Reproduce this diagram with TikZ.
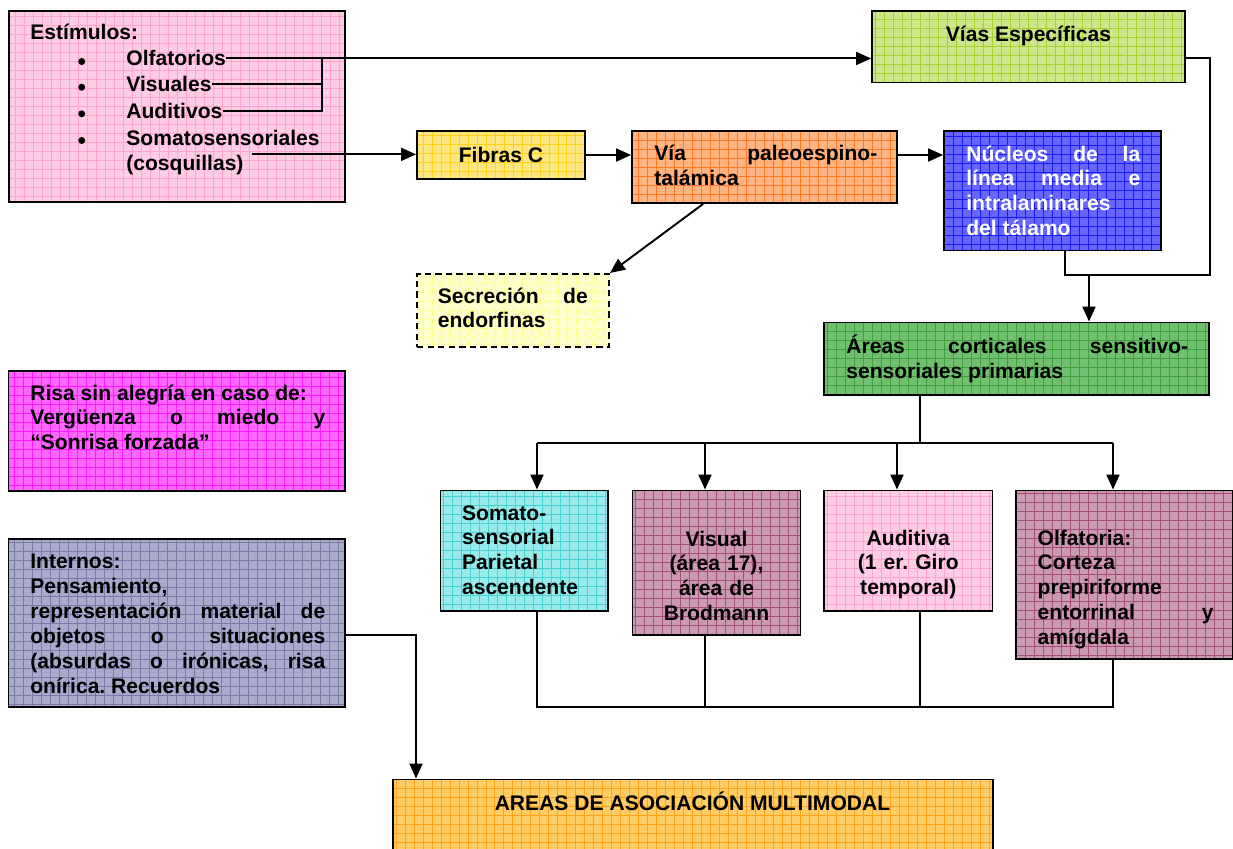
\documentclass[tikz,border=0pt]{standalone}
\usepackage{fontspec}
\setmainfont{Liberation Sans}
\usetikzlibrary{arrows.meta,calc}
\definecolor{FondoRosa}{HTML}{FFCCE5}
\definecolor{RejaRosa}{HTML}{FFA3D1}
\definecolor{FondoLima}{HTML}{CCE68C}
\definecolor{RejaLima}{HTML}{A6D22E}
\definecolor{FondoAmarillo}{HTML}{FFE680}
\definecolor{RejaAmarillo}{HTML}{FFD21A}
\definecolor{FondoNaranja}{HTML}{FFB380}
\definecolor{RejaNaranja}{HTML}{FF7A26}
\definecolor{FondoAzul}{HTML}{6666FF}
\definecolor{RejaAzul}{HTML}{1A1AFF}
\definecolor{FondoCrema}{HTML}{FFFFCC}
\definecolor{RejaCrema}{HTML}{FFFF7A}
\definecolor{FondoVerde}{HTML}{70C070}
\definecolor{RejaVerde}{HTML}{40A040}
\definecolor{FondoTurquesa}{HTML}{99EBEB}
\definecolor{RejaTurquesa}{HTML}{47D1D1}
\definecolor{FondoMalva}{HTML}{CC99B3}
\definecolor{RejaMalva}{HTML}{A64D7A}
\definecolor{FondoMagenta}{HTML}{FF66FF}
\definecolor{RejaMagenta}{HTML}{FF1AFF}
\definecolor{FondoLila}{HTML}{AAAACC}
\definecolor{RejaLila}{HTML}{7A7AA6}
\definecolor{FondoOro}{HTML}{FFCC66}
\definecolor{RejaOro}{HTML}{FFA31A}
\tolerance=10000
\hyphenpenalty=10000
\hbadness=10000
\frenchspacing
\tikzset{
  caja/.style 2 args={draw=black, line width=1.1pt, fill=#1, inner sep=0pt,
    path picture={\draw[#2, line width=0.35pt] (path picture bounding box.south west)
      grid[step=0.18cm] (path picture bounding box.north east);}},
  texto/.style={inner sep=0pt, anchor=base west},
  vineta/.style={circle, fill=black, inner sep=0pt, minimum size=0.14cm},
  linea/.style={line width=1.1pt},
  flecha/.style={line width=1.1pt, -{Triangle[length=0.3cm, width=0.26cm]}},
}
\begin{document}
\begin{tikzpicture}[x=0.02cm, y=-0.02cm, every node/.style={font=\fontsize{12}{14.2}\selectfont\bfseries}]
  \useasboundingbox (0,0) rectangle (1233,848);
  % cajas
  \node[caja={FondoRosa}{RejaRosa}, minimum width=6.72cm, minimum height=3.82cm] (estim) at (177,106.5) {};
  \node[caja={FondoLima}{RejaLima}, minimum width=6.26cm, minimum height=1.43cm] (vias) at (1028.5,46.75) {};
  \node[caja={FondoAmarillo}{RejaAmarillo}, minimum width=3.36cm, minimum height=0.96cm] (fibras) at (501,155) {Fibras C};
  \node[caja={FondoNaranja}{RejaNaranja}, minimum width=5.30cm, minimum height=1.44cm] (via) at (764.5,167) {};
  \node[caja={FondoAzul}{RejaAzul}, minimum width=4.34cm, minimum height=2.39cm] (nuc) at (1052.5,190.75) {};
  \node[caja={FondoCrema}{RejaCrema}, dashed, dash pattern=on 3.6pt off 2.4pt, minimum width=3.84cm, minimum height=1.46cm] (secr) at (513,310.5) {};
  \node[caja={FondoVerde}{RejaVerde}, minimum width=7.70cm, minimum height=1.45cm] (areas) at (1016.5,358.75) {};
  \node[caja={FondoTurquesa}{RejaTurquesa}, minimum width=3.35cm, minimum height=2.41cm] (somato) at (524.25,550.75) {};
  \node[caja={FondoMalva}{RejaMalva}, minimum width=3.36cm, minimum height=2.89cm] (visual) at (716.5,562.75) {};
  \node[caja={FondoRosa}{RejaRosa}, minimum width=3.37cm, minimum height=2.41cm] (audit) at (908.25,550.75) {};
  \node[caja={FondoMalva}{RejaMalva}, minimum width=4.33cm, minimum height=3.37cm] (olfat) at (1124.25,574.75) {};
  \node[caja={FondoMagenta}{RejaMagenta}, minimum width=6.73cm, minimum height=2.40cm] (risa) at (176.75,431) {};
  \node[caja={FondoLila}{RejaLila}, minimum width=6.73cm, minimum height=3.36cm] (intern) at (176.75,623) {};
  \node[caja={FondoOro}{RejaOro}, minimum width=12.01cm, minimum height=1.81cm] (asoc) at (692.75,824.75) {};

  % textos
  \node[texto] (estim-t) at (30,39.3) {Estímulos:};
  \node[vineta] (p1) at (81.7,61.5) {};
  \node[vineta] (p2) at (81.7,87.2) {};
  \node[vineta] (p3) at (81.7,113.8) {};
  \node[vineta] (p4) at (81.7,140.5) {};
  \node[texto] (olf) at (126,66) {Olfatorios};
  \node[texto] (vis) at (126,91.7) {Visuales};
  \node[texto] (aud) at (126,118.3) {Auditivos};
  \node[texto] (som) at (126,145) {Somatosensoriales};
  \node[texto] (cosq) at (126,170) {(cosquillas)};
  \node[texto, anchor=base] (vias-t) at (1028.5,41.7) {Vías Específicas};
  \node[texto, text width=4.46cm, align=justify] (via-t) at (654,160.7)
    {Vía paleoespino-\linebreak talámica};
  \node[texto, text width=3.48cm, align=justify, text=white] (nuc-t) at (966,161)
    {Núcleos de la\linebreak línea media e\linebreak intralaminares\linebreak del tálamo};
  \node[texto, text width=3.0cm, align=justify] (secr-t) at (437.5,303)
    {Secreción de\linebreak endorfinas};
  \node[texto, text width=6.84cm, align=justify] (areas-t) at (846,353.3)
    {Áreas corticales sensitivo-\linebreak sensoriales primarias};
  \node[texto, text width=3.0cm, align=left] (somato-t) at (461.7,520)
    {Somato-\\sensorial\\Parietal\\ascendente};
  \node[texto, anchor=base, text width=3.0cm, align=center] (visual-t) at (716.5,546)
    {Visual\\(área 17),\\área de\\Brodmann};
  \node[texto, anchor=base, text width=3.0cm, align=center] (audit-t) at (908.25,545)
    {Auditiva\\(1 er. Giro\\temporal)};
  \node[texto, text width=3.52cm, align=justify] (olfat-t) at (1037.3,545)
    {Olfatoria:\\Corteza\\prepiriforme\\entorrinal y\linebreak amígdala};
  \node[texto, text width=5.9cm, align=justify] (risa-t) at (30,400)
    {Risa sin alegría en caso de:\\Vergüenza o miedo y\linebreak “Sonrisa forzada”};
  \node[texto, text width=5.9cm, align=justify] (intern-t) at (30,568.3)
    {Internos:\\Pensamiento,\\representación material de\linebreak objetos o situaciones\linebreak
     (absurdas o irónicas, risa\linebreak onírica. Recuerdos};
  \node[texto, anchor=base] (asoc-t) at (692.5,810) {AREAS DE ASOCIACIÓN MULTIMODAL};

  % conexiones
  \coordinate (nudo) at ($(olf.east)+(96,0)$);
  \draw[flecha] (olf.east) -- (olf.east -| vias.west);
  \draw[linea] (vis.east) -| (nudo);
  \draw[linea] (aud.east) -| (nudo);
  \draw[flecha] ([xshift=0.16cm]cosq.north east) -- (cosq.north east -| fibras.west);
  \draw[flecha] (fibras.east) -- (fibras.east -| via.west);
  \draw[flecha] (via.east |- fibras.east) -- (nuc.west |- fibras.east);
  \draw[flecha] ($(via.south west)!0.27!(via.south east)$) -- (secr.north east);
  \coordinate (sal) at ([xshift=0.25cm]nuc.south);
  \coordinate (bajada) at (1089,275);
  \draw[linea] (vias.east |- olf.east) -- ++(24,0) |- (sal |- bajada) -- (sal);
  \draw[flecha] (bajada) -- (bajada |- areas.north);
  \coordinate (rama) at (920,443);
  \coordinate (b1) at (537,443);
  \coordinate (b2) at (705,443);
  \coordinate (b3) at (897,443);
  \coordinate (b4) at (1113,443);
  \draw[linea] (areas.south -| rama) -- (rama);
  \draw[linea] (b1) -- (b4);
  \draw[flecha] (b1) -- (b1 |- somato.north);
  \draw[flecha] (b2) -- (b2 |- visual.north);
  \draw[flecha] (b3) -- (b3 |- audit.north);
  \draw[flecha] (b4) -- (b4 |- olfat.north);
  \coordinate (base) at (0,707);
  \draw[linea] (somato.south -| b1) -- (b1 |- base) -- (b4 |- base) -- (olfat.south -| b4);
  \draw[linea] (visual.south -| b2) -- (b2 |- base);
  \draw[linea] (audit.south -| rama) -- (rama |- base);
  \draw[flecha] ([yshift=-0.24cm]intern.east) -| (416,0 |- asoc.north);
\end{tikzpicture}
\end{document}
